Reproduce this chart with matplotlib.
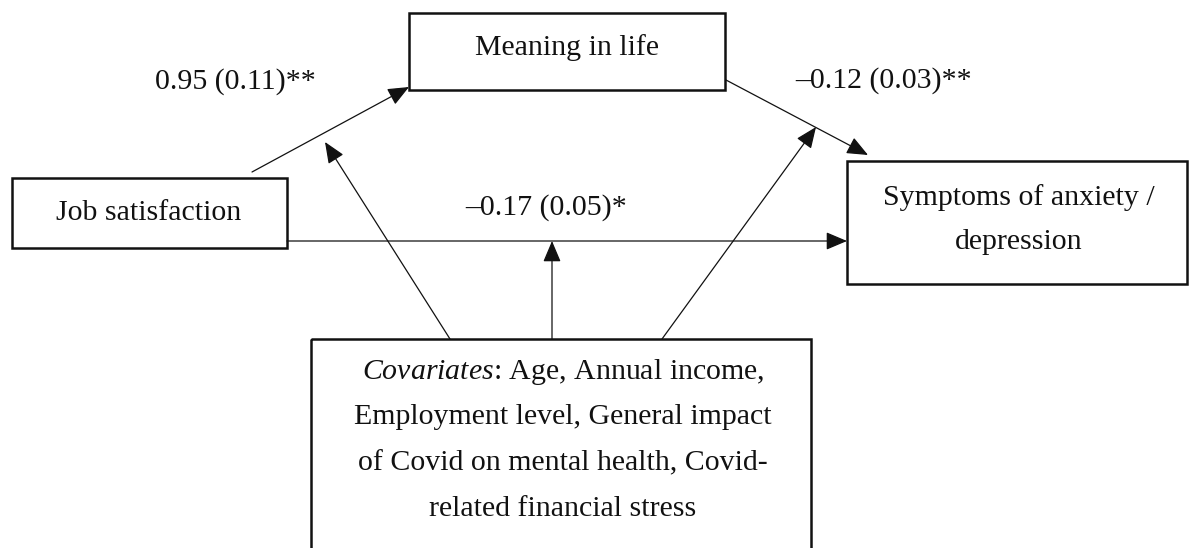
import matplotlib.pyplot as plt
from matplotlib.patches import Rectangle

# node labels
job_label = 'Job satisfaction'
meaning_label = 'Meaning in life'
symptom_lines = ['Symptoms of anxiety /', 'depression']
covariate_lines = [r'$\it{Covariates}$: Age, Annual income,',
                   'Employment level, General impact',
                   'of Covid on mental health, Covid-',
                   'related financial stress']

# path coefficients (estimate, SE, stars)
path_est = [0.95, -0.12, -0.17]
path_se = [0.11, 0.03, 0.05]
path_sig = ['**', '**', '*']


def coef_text(est, se, sig):
    s = '%.2f (%.2f)%s' % (abs(est), se, sig)
    if est < 0:
        s = '\u2013' + s
    return s


def main():
    plt.rcParams['font.family'] = ['Liberation Serif', 'DejaVu Serif']
    plt.rcParams['mathtext.fontset'] = 'custom'
    plt.rcParams['mathtext.it'] = 'Liberation Serif:italic'
    plt.rcParams['mathtext.rm'] = 'Liberation Serif'

    fig = plt.figure(figsize=(11.89, 5.48), dpi=100)
    ax = fig.add_axes([0, 0, 1, 1])
    ax.set_xlim(0, 1189)
    ax.set_ylim(548, 0)
    ax.axis('off')

    ink = '#111111'
    fs = 21.5

    # boxes: x, y, w, h
    boxes = {
        'job': (12, 178, 275, 70),
        'meaning': (409, 13, 316, 77),
        'symptom': (847, 161, 340, 123),
        'cov': (311, 339, 500, 240),
    }
    for b in boxes.values():
        ax.add_patch(Rectangle((b[0], b[1]), b[2], b[3], fill=False,
                               edgecolor=ink, lw=1.8, clip_on=True))

    ax.text(149, 213, job_label, ha='center', va='center', fontsize=fs, color=ink)
    ax.text(567, 48, meaning_label, ha='center', va='center', fontsize=fs, color=ink)
    for i, line in enumerate(symptom_lines):
        ax.text(1019, 198 + i * 44, line, ha='center', va='center', fontsize=fs, color=ink)
    for i, line in enumerate(covariate_lines):
        ax.text(563, 372 + i * 45.5, line, ha='center', va='center', fontsize=fs, color=ink)

    # arrows
    arrows = [
        ((252, 172), (409, 87)),
        ((726, 80), (868, 155)),
        ((287, 241), (847, 241)),
        ((450, 339), (325, 142)),
        ((552, 339), (552, 241)),
        ((662, 339), (816, 127)),
    ]
    for start, end in arrows:
        ax.annotate('', xy=end, xytext=start,
                    arrowprops=dict(arrowstyle='-|>,head_length=1.3,head_width=0.55',
                                    mutation_scale=10, lw=0.9, color=ink,
                                    shrinkA=0, shrinkB=0))

    # coefficient labels
    label_pos = [(235, 82), (884, 81), (546, 208)]
    for (x, y), est, se, sig in zip(label_pos, path_est, path_se, path_sig):
        ax.text(x, y, coef_text(est, se, sig), ha='center', va='center',
                fontsize=fs, color=ink)

    fig.savefig('out.png', dpi=100)


if __name__ == "__main__":
    main()
